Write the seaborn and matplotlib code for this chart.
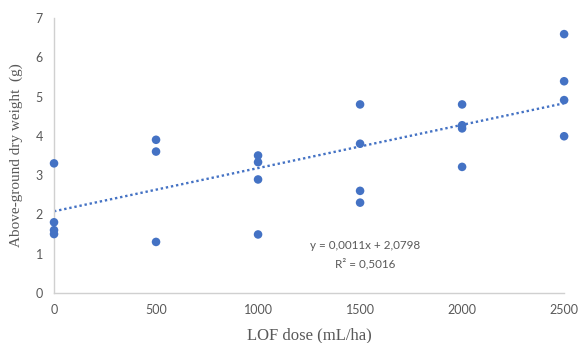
import matplotlib
matplotlib.use("Agg")
import matplotlib.pyplot as plt
import seaborn as sns
import pandas as pd
import numpy as np

# data
dose = [0, 0, 0, 0,
        500, 500, 500,
        1000, 1000, 1000, 1000,
        1500, 1500, 1500, 1500,
        2000, 2000, 2000, 2000,
        2500, 2500, 2500, 2500]
weight = [3.3, 1.8, 1.6, 1.5,
          3.9, 3.6, 1.3,
          3.5, 3.33, 2.89, 1.49,
          4.8, 3.8, 2.6, 2.3,
          4.8, 4.27, 4.19, 3.21,
          6.59, 5.39, 4.91, 3.99]
x_ticks = [0, 500, 1000, 1500, 2000, 2500]
y_ticks = [0, 1, 2, 3, 4, 5, 6, 7]
slope = 0.0011
intercept = 2.0798
eq_line1 = "y = 0,0011x + 2,0798"
eq_line2 = "R² = 0,5016"

df = pd.DataFrame({"dose": dose, "weight": weight})
trend_x = [min(dose), max(dose)]
trend = pd.DataFrame({"dose": trend_x,
                      "weight": [slope * v + intercept for v in trend_x]})

sns.set_theme(style="white")
plt.rcParams['font.family'] = ['Lato', 'DejaVu Sans']

fig = plt.figure(figsize=(5.79, 3.43), dpi=100)
ax = fig.add_axes([0.0933, 0.1458, 0.881, 0.8017])

blue = "#4472C4"
grey = "#595959"
sns.lineplot(data=trend, x="dose", y="weight", ax=ax, color=blue,
             linestyle=(0, (1, 1.2)), linewidth=1.7, zorder=2)
sns.scatterplot(data=df, x="dose", y="weight", ax=ax, s=38, color=blue,
                edgecolor="none", linewidth=0, clip_on=False, zorder=3)

ax.set_xlim(0, 2500)
ax.set_ylim(0, 7)
ax.set_xticks(x_ticks)
ax.set_yticks(y_ticks)
ax.tick_params(axis='both', length=0, labelsize=9, colors=grey, pad=8)
for s in ["top", "right"]:
    ax.spines[s].set_visible(False)
for s in ["left", "bottom"]:
    ax.spines[s].set_color("#d0d0d0")
    ax.spines[s].set_linewidth(1.0)

ax.set_xlabel("LOF dose (mL/ha)", family="Liberation Serif", fontsize=12, color=grey, labelpad=8)
ax.set_ylabel("Above-ground dry weight  (g)", family="Liberation Serif", fontsize=11, color=grey)
ax.yaxis.set_label_coords(-0.06, 0.5)

ax.text(1525, 1.20, eq_line1, ha="center", va="center", fontsize=8.4, color=grey)
ax.text(1525, 0.74, eq_line2, ha="center", va="center", fontsize=8.4, color=grey)

fig.savefig("out.png", dpi=100)
